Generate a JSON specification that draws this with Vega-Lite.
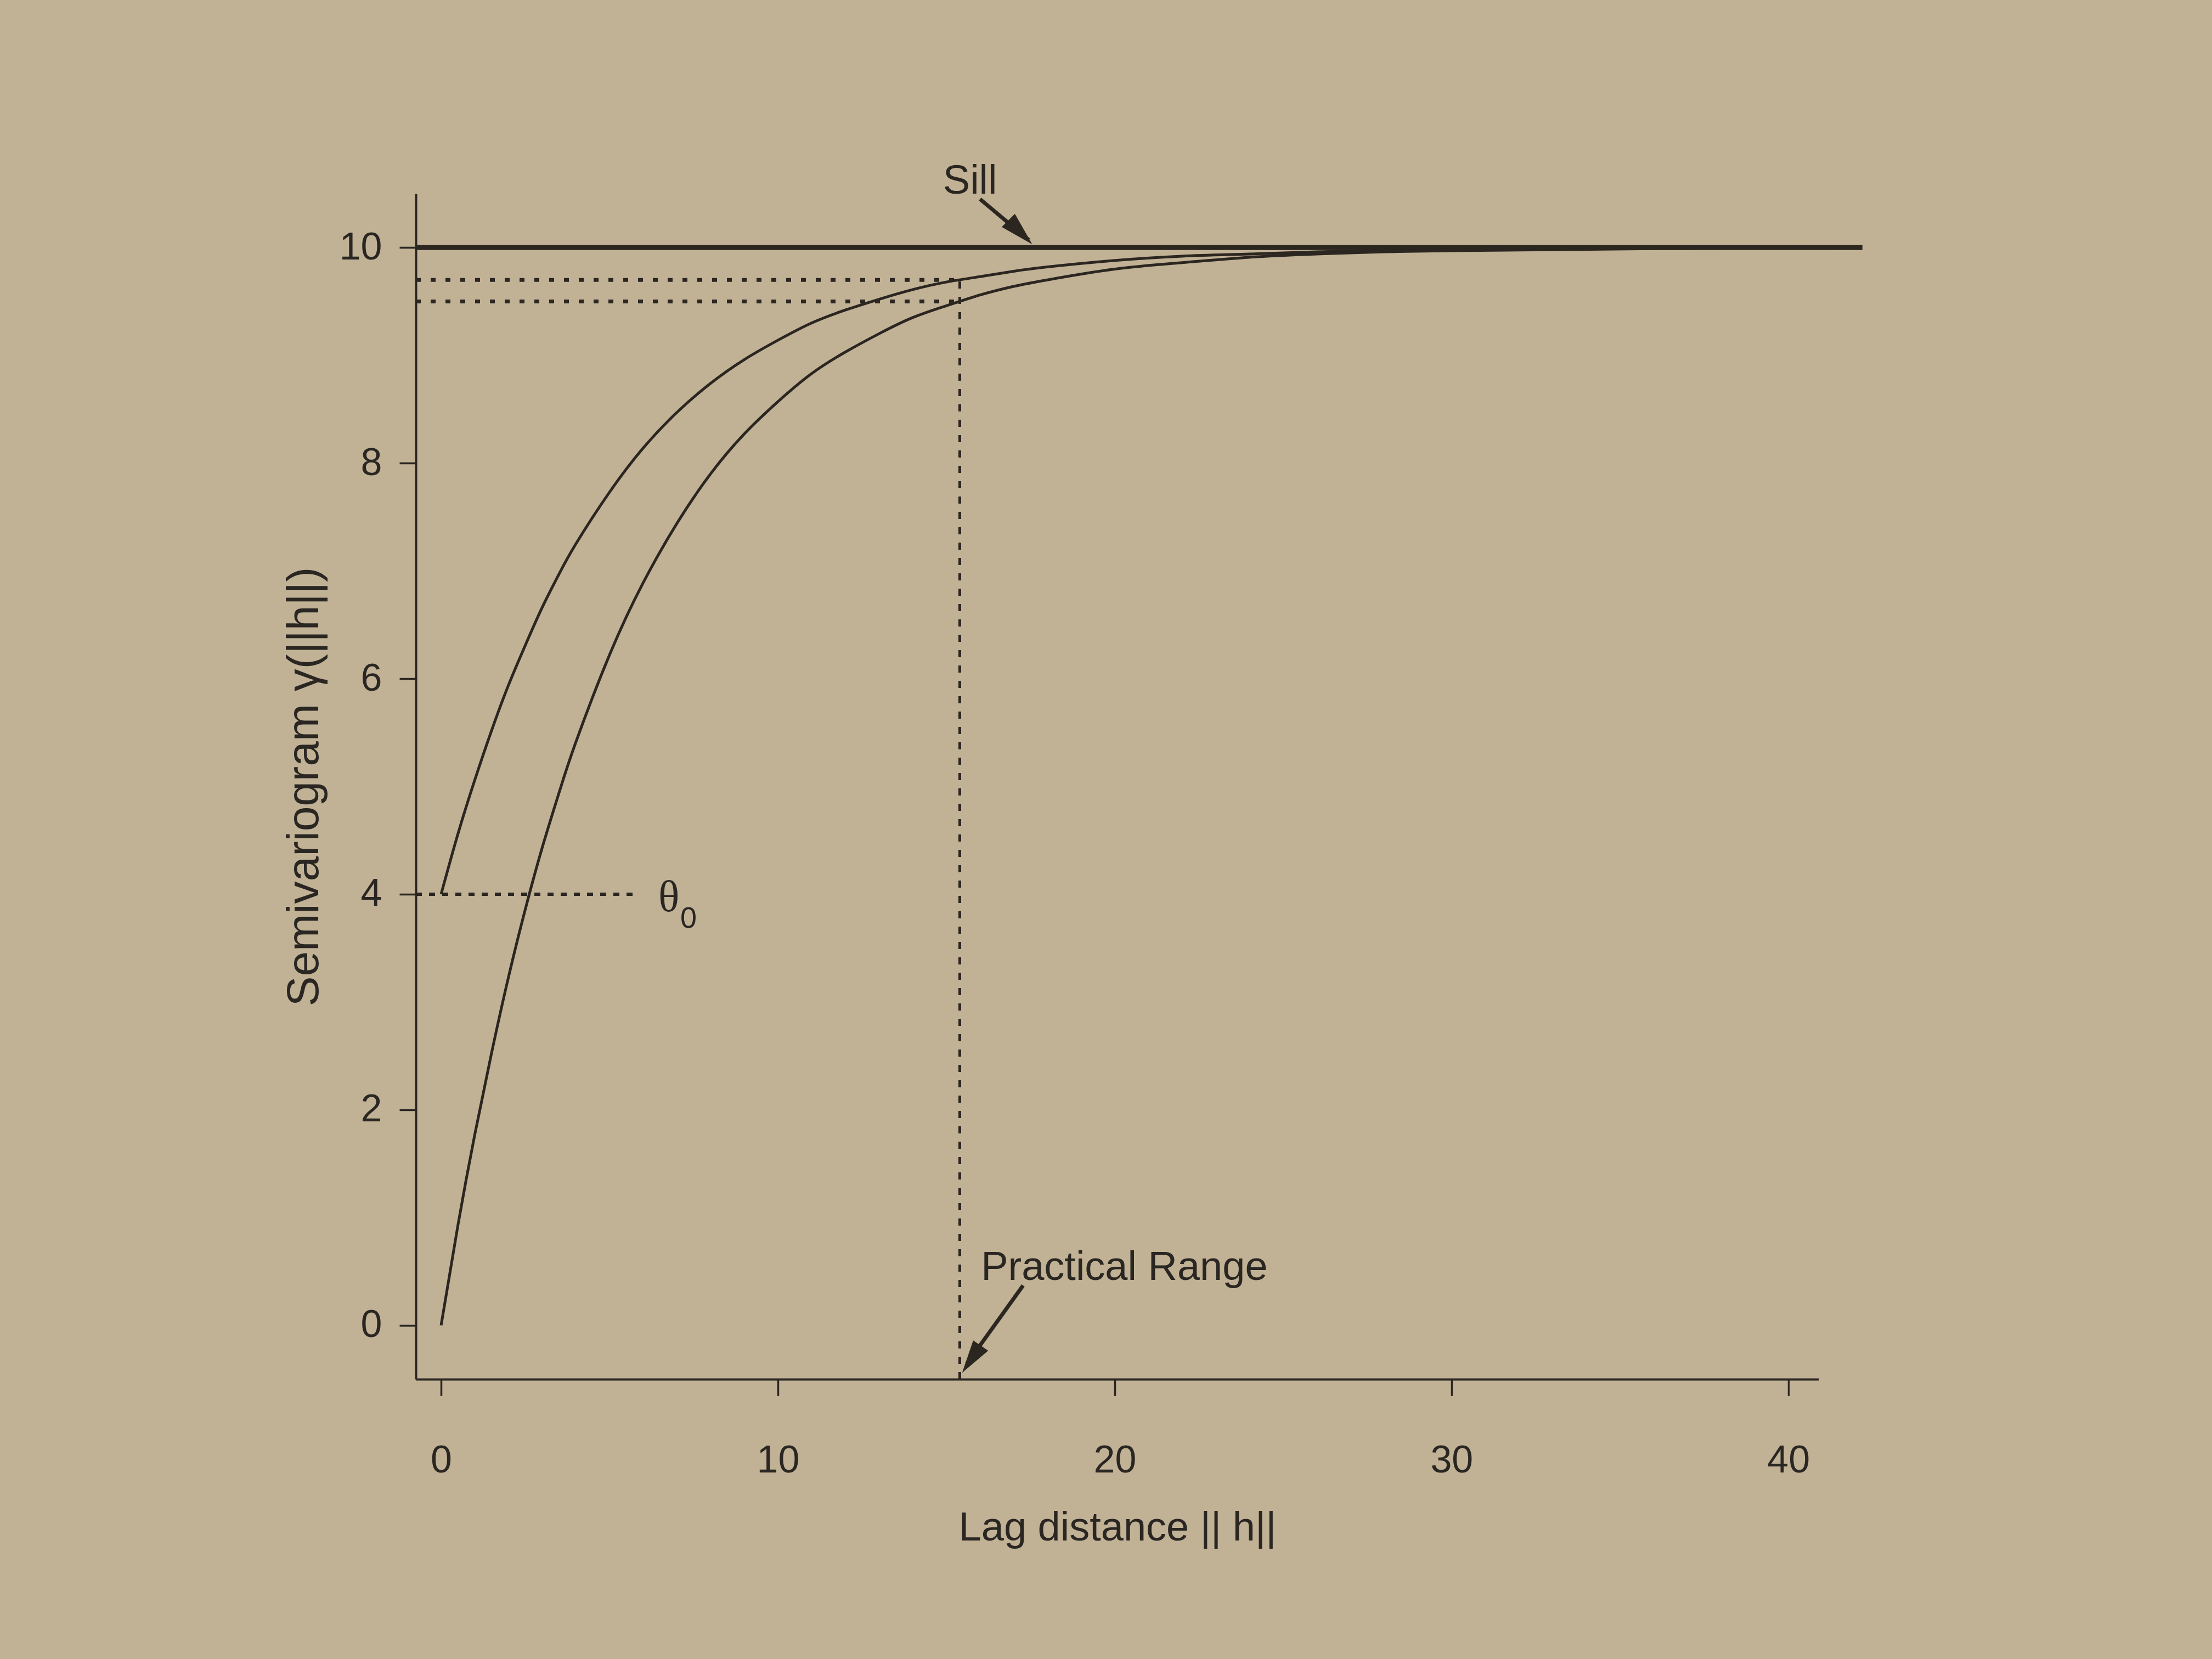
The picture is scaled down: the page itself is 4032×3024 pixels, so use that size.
{
  "$schema": "https://vega.github.io/schema/vega-lite/v6.json",
  "width": 2557,
  "height": 2161,
  "autosize": {"type": "none"},
  "padding": {"left": 758, "top": 353, "right": 717, "bottom": 510},
  "background": "#c1b296",
  "config": {
    "view": {"stroke": null},
    "font": "Liberation Sans",
    "axis": {"grid": false}
  },
  "encoding": {
    "x": {
      "field": "h",
      "type": "quantitative",
      "scale": {"domain": [-0.75, 40.9], "nice": false, "zero": false},
      "axis": {
        "values": [0, 10, 20, 30, 40],
        "title": "Lag distance || h||",
        "domainColor": "#2b2620",
        "domainWidth": 4,
        "tickColor": "#2b2620",
        "tickWidth": 3.5,
        "tickSize": 30,
        "labelFontSize": 70,
        "labelColor": "#2a2622",
        "labelPadding": 84,
        "labelFlush": false,
        "titleFontSize": 74,
        "titleFontWeight": "normal",
        "titleColor": "#2a2622",
        "titlePadding": 52
      }
    },
    "y": {
      "field": "gamma",
      "type": "quantitative",
      "scale": {"domain": [-0.5, 10.5], "nice": false, "zero": false},
      "axis": {
        "values": [0, 2, 4, 6, 8, 10],
        "title": "Semivariogram  γ(||h||)",
        "domainColor": "#2b2620",
        "domainWidth": 4,
        "tickColor": "#2b2620",
        "tickWidth": 3.5,
        "tickSize": 30,
        "labelFontSize": 70,
        "labelColor": "#2a2622",
        "labelPadding": 32,
        "labelFlush": false,
        "titleFontSize": 82,
        "titleFontWeight": "normal",
        "titleColor": "#2a2622",
        "titlePadding": 22
      }
    }
  },
  "layer": [
    {
      "data": {"values": [{"h": -0.75, "h2": 42.2, "gamma": 10}]},
      "mark": {"type": "rule", "color": "#2b2620", "strokeWidth": 9},
      "encoding": {"x2": {"field": "h2"}}
    },
    {
      "data": {"values": [
        {"h": -0.75, "h2": 15.4, "gamma": 9.7, "gamma2": 9.7},
        {"h": -0.75, "h2": 15.4, "gamma": 9.5, "gamma2": 9.5}
      ]},
      "mark": {"type": "rule", "color": "#2b2620", "strokeWidth": 7, "strokeDash": [9, 18]},
      "encoding": {"x2": {"field": "h2"}, "y2": {"field": "gamma2"}}
    },
    {
      "data": {"values": [{"h": -0.75, "h2": 5.7, "gamma": 4, "gamma2": 4}]},
      "mark": {"type": "rule", "color": "#2b2620", "strokeWidth": 6, "strokeDash": [11, 13]},
      "encoding": {"x2": {"field": "h2"}, "y2": {"field": "gamma2"}}
    },
    {
      "data": {"values": [{"h": 15.4, "h2": 15.4, "gamma": -0.5, "gamma2": 9.7}]},
      "mark": {"type": "rule", "color": "#2b2620", "strokeWidth": 5, "strokeDash": [13, 15]},
      "encoding": {"x2": {"field": "h2"}, "y2": {"field": "gamma2"}}
    },
    {
      "data": {"values": [
        {"model": "no nugget", "h": 0, "gamma": 0},
        {"model": "no nugget", "h": 0.5, "gamma": 0.93},
        {"model": "no nugget", "h": 1, "gamma": 1.77},
        {"model": "no nugget", "h": 1.5, "gamma": 2.53},
        {"model": "no nugget", "h": 2, "gamma": 3.23},
        {"model": "no nugget", "h": 2.5, "gamma": 3.86},
        {"model": "no nugget", "h": 3, "gamma": 4.43},
        {"model": "no nugget", "h": 3.5, "gamma": 4.94},
        {"model": "no nugget", "h": 4, "gamma": 5.41},
        {"model": "no nugget", "h": 5, "gamma": 6.22},
        {"model": "no nugget", "h": 6, "gamma": 6.89},
        {"model": "no nugget", "h": 7, "gamma": 7.44},
        {"model": "no nugget", "h": 8, "gamma": 7.9},
        {"model": "no nugget", "h": 9, "gamma": 8.27},
        {"model": "no nugget", "h": 10, "gamma": 8.57},
        {"model": "no nugget", "h": 11, "gamma": 8.83},
        {"model": "no nugget", "h": 12, "gamma": 9.03},
        {"model": "no nugget", "h": 13, "gamma": 9.2},
        {"model": "no nugget", "h": 14, "gamma": 9.35},
        {"model": "no nugget", "h": 15, "gamma": 9.46},
        {"model": "no nugget", "h": 16, "gamma": 9.56},
        {"model": "no nugget", "h": 17, "gamma": 9.64},
        {"model": "no nugget", "h": 18, "gamma": 9.7},
        {"model": "no nugget", "h": 20, "gamma": 9.8},
        {"model": "no nugget", "h": 22, "gamma": 9.86},
        {"model": "no nugget", "h": 24, "gamma": 9.91},
        {"model": "no nugget", "h": 26, "gamma": 9.94},
        {"model": "no nugget", "h": 28, "gamma": 9.96},
        {"model": "no nugget", "h": 30, "gamma": 9.97},
        {"model": "no nugget", "h": 33, "gamma": 9.98},
        {"model": "no nugget", "h": 36, "gamma": 9.99},
        {"model": "no nugget", "h": 42, "gamma": 10},
        {"model": "nugget", "h": 0, "gamma": 4},
        {"model": "nugget", "h": 0.5, "gamma": 4.56},
        {"model": "nugget", "h": 1, "gamma": 5.06},
        {"model": "nugget", "h": 1.5, "gamma": 5.52},
        {"model": "nugget", "h": 2, "gamma": 5.94},
        {"model": "nugget", "h": 2.5, "gamma": 6.31},
        {"model": "nugget", "h": 3, "gamma": 6.66},
        {"model": "nugget", "h": 3.5, "gamma": 6.97},
        {"model": "nugget", "h": 4, "gamma": 7.25},
        {"model": "nugget", "h": 5, "gamma": 7.73},
        {"model": "nugget", "h": 6, "gamma": 8.14},
        {"model": "nugget", "h": 7, "gamma": 8.47},
        {"model": "nugget", "h": 8, "gamma": 8.74},
        {"model": "nugget", "h": 9, "gamma": 8.96},
        {"model": "nugget", "h": 10, "gamma": 9.14},
        {"model": "nugget", "h": 11, "gamma": 9.3},
        {"model": "nugget", "h": 12, "gamma": 9.42},
        {"model": "nugget", "h": 13, "gamma": 9.52},
        {"model": "nugget", "h": 14, "gamma": 9.61},
        {"model": "nugget", "h": 15, "gamma": 9.68},
        {"model": "nugget", "h": 16, "gamma": 9.73},
        {"model": "nugget", "h": 17, "gamma": 9.78},
        {"model": "nugget", "h": 18, "gamma": 9.82},
        {"model": "nugget", "h": 20, "gamma": 9.88},
        {"model": "nugget", "h": 22, "gamma": 9.92},
        {"model": "nugget", "h": 24, "gamma": 9.94},
        {"model": "nugget", "h": 26, "gamma": 9.96},
        {"model": "nugget", "h": 28, "gamma": 9.97},
        {"model": "nugget", "h": 30, "gamma": 9.98},
        {"model": "nugget", "h": 33, "gamma": 9.99},
        {"model": "nugget", "h": 42, "gamma": 10}
      ]},
      "mark": {"type": "line", "color": "#2b2620", "strokeWidth": 5, "interpolate": "natural"},
      "encoding": {"detail": {"field": "model"}}
    },
    {
      "data": {"values": [
        {"h": 16.0, "gamma": 10.45, "h2": 17.45, "gamma2": 10.07},
        {"h": 17.28, "gamma": 0.37, "h2": 15.6, "gamma2": -0.36}
      ]},
      "mark": {"type": "rule", "color": "#2b2620", "strokeWidth": 7},
      "encoding": {"x2": {"field": "h2"}, "y2": {"field": "gamma2"}}
    },
    {
      "data": {"values": [{"h": 17.55, "gamma": 10.03}]},
      "mark": {"type": "point", "shape": "M0,0L-0.55,-2L0.55,-2Z", "size": 3800, "filled": true, "opacity": 1, "color": "#2b2620", "angle": -45}
    },
    {
      "data": {"values": [{"h": 15.47, "gamma": -0.44}]},
      "mark": {"type": "point", "shape": "M0,0L-0.55,-2L0.55,-2Z", "size": 3600, "filled": true, "opacity": 1, "color": "#2b2620", "angle": 34.3}
    },
    {
      "data": {"values": [
        {"h": 14.9, "gamma": 10.5, "label": "Sill"},
        {"h": 16.03, "gamma": 0.42, "label": "Practical Range"}
      ]},
      "mark": {"type": "text", "align": "left", "baseline": "alphabetic", "fontSize": 74, "color": "#2a2622"},
      "encoding": {"text": {"field": "label"}}
    },
    {
      "data": {"values": [{"h": 6.45, "gamma": 3.84, "label": "θ"}]},
      "mark": {"type": "text", "align": "left", "baseline": "alphabetic", "fontSize": 80, "font": "Liberation Serif", "color": "#2a2622"},
      "encoding": {"text": {"field": "label"}}
    },
    {
      "data": {"values": [{"h": 7.1, "gamma": 3.69, "label": "0"}]},
      "mark": {"type": "text", "align": "left", "baseline": "alphabetic", "fontSize": 54, "color": "#2a2622"},
      "encoding": {"text": {"field": "label"}}
    }
  ]
}
